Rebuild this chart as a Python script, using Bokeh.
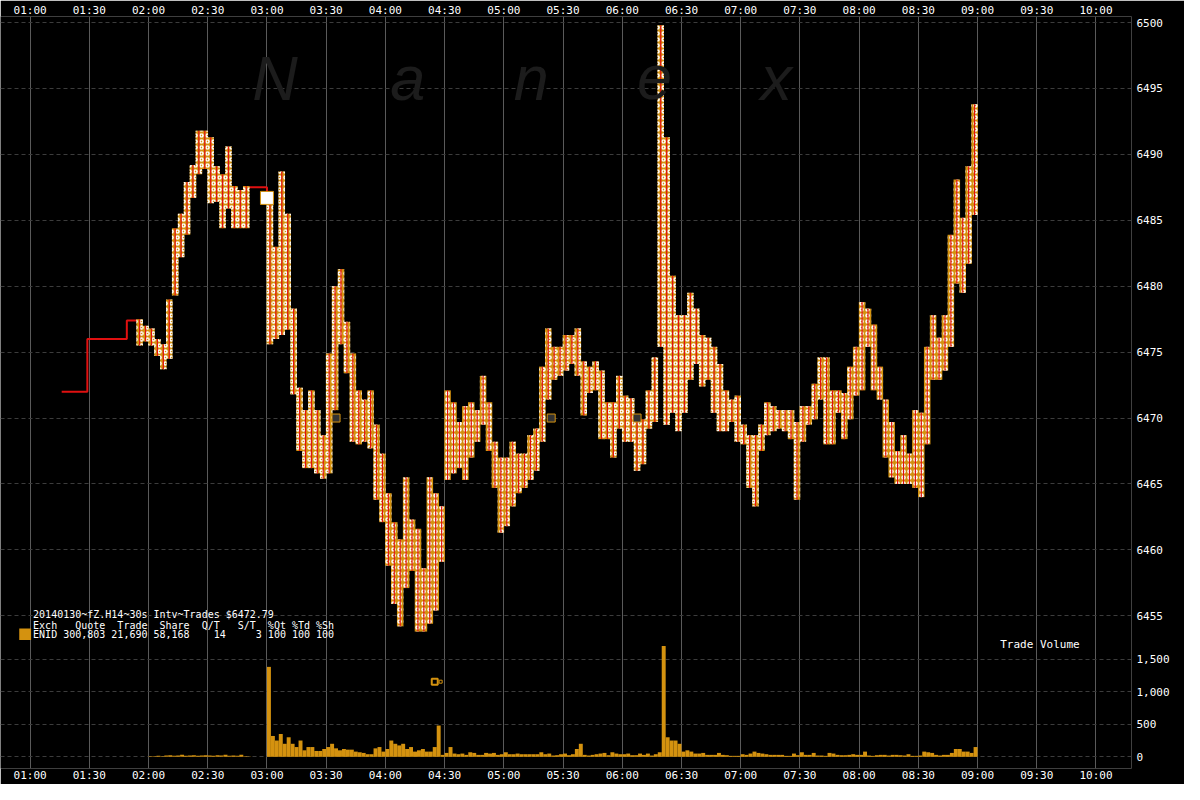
import pandas as pd
from bokeh.plotting import figure
from bokeh.models import (Range1d, DatetimeAxis, FixedTicker, DatetimeTickFormatter,
                          CustomJSTickFormatter, Label, BoxAnnotation)
from bokeh.embed import file_html
from bokeh.resources import INLINE

# ---------------- data ----------------
DAY = "2014-01-30 "
TIME_TICKS = ["01:00", "01:30", "02:00", "02:30", "03:00", "03:30", "04:00", "04:30", "05:00",
              "05:30", "06:00", "06:30", "07:00", "07:30", "08:00", "08:30", "09:00", "09:30", "10:00"]
PRICE_TICKS = [6455, 6460, 6465, 6470, 6475, 6480, 6485, 6490, 6495, 6500]
VOL_TICKS = [0, 500, 1000, 1500]

# thin early trade path (step line)
EARLY_T = ["01:16", "01:29", "01:49", "01:55"]
EARLY_P = [6472.0, 6476.0, 6477.4, 6477.4]
FLAT_T = ["02:49", "03:00", "03:00"]
FLAT_P = [6487.5, 6487.5, 6486.7]

# 3-minute trade bins: low / high (None = no trades)
BIN_START = "01:54"
BIN_MIN = 3
LOW = [
    6475.5, 6475.8,                                                                  # 01:54
    6475.5, 6474.7, 6473.7, 6474.5, 6479.3, 6482.2, 6483.9, 6486.7, 6488.5, 6488.9,  # 02:00
    6486.3, 6486.4, 6484.4, 6485.9, 6484.4, 6484.4, 6484.4, None, None, None,        # 02:30
    6475.6, 6476.0, 6476.3, 6476.7, 6471.8, 6467.5, 6466.2, 6466.2, 6465.8, 6465.4,  # 03:00
    6465.8, 6470.6, 6475.6, 6473.4, 6468.2, 6468.0, 6468.2, 6467.7, 6463.8, 6462.1,  # 03:30
    6458.8, 6455.9, 6454.2, 6457.1, 6458.4, 6453.8, 6453.8, 6454.4, 6455.4, 6459.1,  # 04:00
    6465.3, 6465.8, 6466.2, 6465.3, 6467.0, 6468.2, 6469.5, 6467.5, 6464.7, 6461.3,  # 04:30
    6461.8, 6463.3, 6464.3, 6464.7, 6465.3, 6466.0, 6468.2, 6471.4, 6472.9, 6473.2,  # 05:00
    6473.6, 6474.1, 6473.2, 6470.2, 6471.9, 6472.1, 6468.4, 6468.4, 6467.0, 6469.2,  # 05:30
    6468.2, 6468.2, 6466.0, 6466.5, 6469.2, 6469.7, 6475.4, 6469.5, 6470.4, 6469.0,  # 06:00
    6470.4, 6472.9, 6474.1, 6472.4, 6472.9, 6470.4, 6469.0, 6469.0, 6469.7, 6468.2,  # 06:30
    6468.0, 6464.7, 6463.3, 6467.5, 6468.7, 6469.0, 6469.2, 6469.0, 6468.4, 6463.8,  # 07:00
    6468.2, 6469.5, 6469.9, 6471.4, 6468.0, 6468.0, 6470.4, 6468.4, 6469.9, 6471.7,  # 07:30
    6472.1, 6475.4, 6472.1, 6471.4, 6467.0, 6465.5, 6465.0, 6465.0, 6465.0, 6464.7,  # 08:00
    6464.0, 6468.0, 6472.9, 6472.9, 6473.6, 6475.4, 6480.2, 6479.5, 6481.7, 6485.4,  # 08:30
]
HIGH = [
    6477.5, 6477.0,
    6476.8, 6476.0, 6475.6, 6479.0, 6484.4, 6485.5, 6487.9, 6489.2, 6491.8, 6491.8,
    6491.3, 6489.1, 6488.5, 6490.6, 6487.6, 6487.3, 6487.6, None, None, None,
    6486.3, 6483.0, 6488.7, 6485.5, 6478.3, 6472.3, 6470.6, 6472.1, 6470.6, 6468.7,
    6474.9, 6480.0, 6481.3, 6477.3, 6474.9, 6472.1, 6471.4, 6472.1, 6469.5, 6467.3,
    6464.3, 6462.1, 6460.8, 6465.5, 6462.3, 6461.6, 6458.6, 6465.5, 6464.3, 6463.3,
    6472.1, 6471.2, 6469.7, 6470.9, 6471.2, 6470.6, 6473.2, 6471.2, 6468.2, 6467.0,
    6467.0, 6468.2, 6467.3, 6467.3, 6468.7, 6469.2, 6473.9, 6476.8, 6475.4, 6475.4,
    6476.3, 6476.3, 6476.8, 6474.3, 6473.9, 6474.3, 6473.6, 6471.2, 6471.2, 6473.2,
    6471.7, 6471.5, 6469.7, 6469.9, 6472.1, 6474.6, 6499.8, 6491.3, 6480.8, 6477.8,
    6477.8, 6479.5, 6478.3, 6476.3, 6476.1, 6475.4, 6474.1, 6472.1, 6471.4, 6471.7,
    6469.5, 6468.7, 6468.7, 6469.5, 6471.2, 6470.9, 6470.6, 6470.6, 6470.6, 6469.7,
    6470.9, 6470.9, 6472.6, 6474.6, 6474.6, 6472.1, 6472.1, 6471.9, 6473.9, 6475.4,
    6478.8, 6478.3, 6477.1, 6473.9, 6471.4, 6469.7, 6467.5, 6468.7, 6467.3, 6470.6,
    6470.4, 6475.4, 6477.8, 6476.1, 6477.8, 6483.9, 6488.1, 6485.2, 6489.1, 6493.8,
]

# 2-minute trade volume bins
VOL_START = "02:00"
VOL_MIN = 2
VOLUME = [
    10, 8, 15, 10, 20, 25, 15, 20, 30, 15, 20, 25, 15, 20, 25,                 # 02:00
    20, 15, 25, 20, 30, 15, 20, 15, 30, 10, 5, 0, 0, 0, 0,                     # 02:30
    1380, 320, 250, 350, 200, 300, 200, 150, 250, 100, 150, 150, 90, 90, 120,  # 03:00
    150, 200, 130, 100, 120, 110, 110, 80, 70, 60, 40, 40, 130, 150, 80,       # 03:30
    120, 250, 200, 175, 200, 120, 150, 80, 100, 120, 80, 80, 150, 480, 30,     # 04:00
    60, 150, 50, 40, 50, 30, 70, 60, 30, 30, 60, 50, 60, 30, 40,              # 04:30
    70, 40, 40, 50, 40, 40, 40, 40, 40, 70, 40, 50, 20, 25, 40,               # 05:00
    50, 25, 40, 120, 200, 30, 20, 30, 40, 50, 60, 25, 70, 50, 40,             # 05:30
    40, 50, 25, 25, 50, 30, 50, 20, 40, 70, 1700, 300, 250, 250, 200,         # 06:00
    80, 100, 80, 50, 50, 60, 30, 30, 30, 60, 30, 25, 15, 15, 15,              # 06:30
    40, 30, 50, 80, 60, 50, 40, 30, 30, 30, 30, 15, 15, 50, 25,               # 07:00
    70, 30, 30, 60, 20, 20, 15, 60, 50, 30, 25, 25, 30, 40, 30,               # 07:30
    30, 80, 20, 15, 25, 30, 30, 20, 30, 30, 25, 20, 40, 15, 15,               # 08:00
    20, 80, 70, 60, 30, 20, 30, 30, 60, 120, 120, 80, 80, 60, 150,            # 08:30
]

MARK_T = ["03:35", "05:24", "06:07:30"]   # dark interval marks
MARK_P = [6470.0, 6470.0, 6470.0]
BIG_T = ["03:00"]
BIG_P = [6486.7]
OUT_T = ["04:25"]
OUT_P = [6450.0]
OUT2_T = ["04:28"]
OUT2_P = [6450.0]

LEGEND_LINES = ["20140130~fZ.H14~30s Intv~Trades $6472.79",
                "Exch   Quote  Trade  Share  Q/T   S/T  %Qt %Td %Sh",
                "ENID 300,803 21,690 58,168    14     3 100 100 100"]
WATERMARK = ["N", "a", "n", "e", "x"]

# ---------------- helpers / geometry ----------------
GOLD = "#D4920F"
RED = "#E01010"
FONT = "DejaVu Sans Mono"
W, H = 1184, 784


def T(s):
    return pd.Timestamp(DAY + s)


def ms(ts):
    return ts.value / 1e6


MIN_MS = 60_000.0


# reference-image pixel -> data (ref: 01:00 at x=30, 2 px/min; 6455 at y=629, 13.55 px/pt)
def rx(px):
    return ms(T("01:00")) + (px - 30) / 2.0 * MIN_MS


def ry(py):
    return 6455 + (629 - py) / 13.55


def rv(py):
    return (774 - py) * 500 / 33.5


# frame in reference pixels: x 0..1146, y 13..786 ; figure is the reference scaled to 1184x784
X0, X1 = rx(0), rx(1146)
Y0, Y1 = ry(786), ry(13)
V0, V1 = rv(786), rv(13)


def vol_to_price(v):
    return Y0 + (v - V0) / (V1 - V0) * (Y1 - Y0)


p = figure(width=W, height=H, x_axis_type="datetime",
           x_range=Range1d(X0, X1), y_range=Range1d(Y0, Y1),
           y_axis_location="right", output_backend="svg", toolbar_location=None,
           min_border_left=0, min_border_right=round(W - 1146 * W / 1200),
           min_border_top=13, min_border_bottom=round(H - 786 * H / 800),
           background_fill_color="black", border_fill_color="black", outline_line_color=None)
p.extra_y_ranges = {"vol": Range1d(V0, V1)}

tick_ms = [ms(T(s)) for s in TIME_TICKS]
fmt = DatetimeTickFormatter(microseconds="%H:%M", milliseconds="%H:%M", seconds="%H:%M",
                            minsec="%H:%M", minutes="%H:%M", hourmin="%H:%M", hours="%H:%M",
                            days="%H:%M", months="%H:%M", years="%H:%M")

top_axis = DatetimeAxis()
p.add_layout(top_axis, "above")
for ax in p.xaxis:
    ax.ticker = FixedTicker(ticks=tick_ms)
    ax.formatter = fmt
    ax.axis_line_color = None
    ax.major_tick_line_color = None
    ax.minor_tick_line_color = None
    ax.major_tick_in = 0
    ax.major_tick_out = 0
    ax.major_label_text_color = "white"
    ax.major_label_text_font = FONT
    ax.major_label_text_font_size = "11px"
    ax.major_label_standoff = 0

yticks = [float(v) for v in PRICE_TICKS] + [vol_to_price(v) for v in VOL_TICKS]
yax = p.yaxis[0]
yax.ticker = FixedTicker(ticks=yticks)
yax.formatter = CustomJSTickFormatter(
    args=dict(pmin=min(PRICE_TICKS), y0=Y0, y1=Y1, v0=V0, v1=V1),
    code="""
    if (tick > pmin - 0.5) { return tick.toFixed(0); }
    const v = Math.round(v0 + (tick - y0) / (y1 - y0) * (v1 - v0));
    return v.toLocaleString('en-US');
    """)
yax.axis_line_color = None
yax.major_tick_line_color = None
yax.minor_tick_line_color = None
yax.major_tick_in = 0
yax.major_tick_out = 0
yax.major_label_text_color = "white"
yax.major_label_text_font = FONT
yax.major_label_text_font_size = "11px"
yax.major_label_standoff = 5

p.xgrid.ticker = FixedTicker(ticks=tick_ms)
p.xgrid.grid_line_color = "#5a5a5a"
p.xgrid.grid_line_width = 1
p.ygrid.ticker = FixedTicker(ticks=yticks)
p.ygrid.grid_line_color = "#3c3c3c"
p.ygrid.grid_line_dash = "4 3"

# ---------------- volume ----------------
v_start = T(VOL_START)
v_x = [ms(v_start) + (i + 0.5) * VOL_MIN * MIN_MS for i in range(len(VOLUME))]
p.vbar(x=v_x, top=VOLUME, bottom=0, width=VOL_MIN * MIN_MS, y_range_name="vol",
       fill_color=GOLD, line_color=None)

# ---------------- price ----------------
b_start = T(BIN_START)
bx, bl, bh = [], [], []
for i, (lo, hi) in enumerate(zip(LOW, HIGH)):
    if lo is None:
        continue
    bx.append(ms(b_start) + (i + 0.5) * BIN_MIN * MIN_MS)
    bl.append(lo)
    bh.append(hi)

p.step(x=[ms(T(s)) for s in EARLY_T], y=EARLY_P, mode="after", line_color=RED, line_width=2)
p.line(x=[ms(T(s)) for s in FLAT_T], y=FLAT_P, line_color=RED, line_width=2)

p.vbar(x=bx, bottom=bl, top=bh, width=3.3 * MIN_MS, fill_color=GOLD, line_color=None,
       hatch_pattern="ring", hatch_color="white", hatch_scale=6, hatch_weight=1.5)
p.segment(x0=bx, y0=bl, x1=bx, y1=bh, line_color=RED, line_width=1.2)

p.scatter(x=[ms(T(s)) for s in MARK_T], y=MARK_P, marker="square", size=8,
          fill_color="#333333", line_color=GOLD, line_width=1)
p.scatter(x=[ms(T(s)) for s in BIG_T], y=BIG_P, marker="square", size=13,
          fill_color="white", line_color=GOLD, line_width=1)
p.scatter(x=[ms(T(s)) for s in OUT_T], y=OUT_P, marker="square", size=6,
          fill_color=None, line_color=GOLD, line_width=2)
p.scatter(x=[ms(T(s)) for s in OUT2_T], y=OUT2_P, marker="square", size=3,
          fill_color=None, line_color=GOLD, line_width=1)

# ---------------- annotations ----------------
NB = "\u00a0"
for letter, px in zip(WATERMARK, [255, 395, 520, 645, 770]):
    p.add_layout(Label(x=rx(px), y=ry(76), text=letter, text_color="#1c1c1c",
                       text_font="Liberation Sans", text_font_style="italic",
                       text_font_size="63px", text_baseline="alphabetic", text_align="left"))

for line, py in zip(LEGEND_LINES, [628, 638.5, 648]):
    p.add_layout(Label(x=rx(33), y=ry(py), text=line.replace(" ", NB), text_color="white",
                       text_font=FONT, text_font_size="10px", text_baseline="middle",
                       text_align="left"))

p.add_layout(BoxAnnotation(left=rx(19), right=rx(31), top=ry(642), bottom=ry(654),
                           fill_color=GOLD, fill_alpha=1, line_color=None))

p.add_layout(Label(x=rx(1013), y=ry(659), text="Trade" + NB + "Volume", text_color="white",
                   text_font=FONT, text_font_size="11px", text_baseline="middle",
                   text_align="left"))

open("out.html", "w").write(file_html(p, INLINE))
